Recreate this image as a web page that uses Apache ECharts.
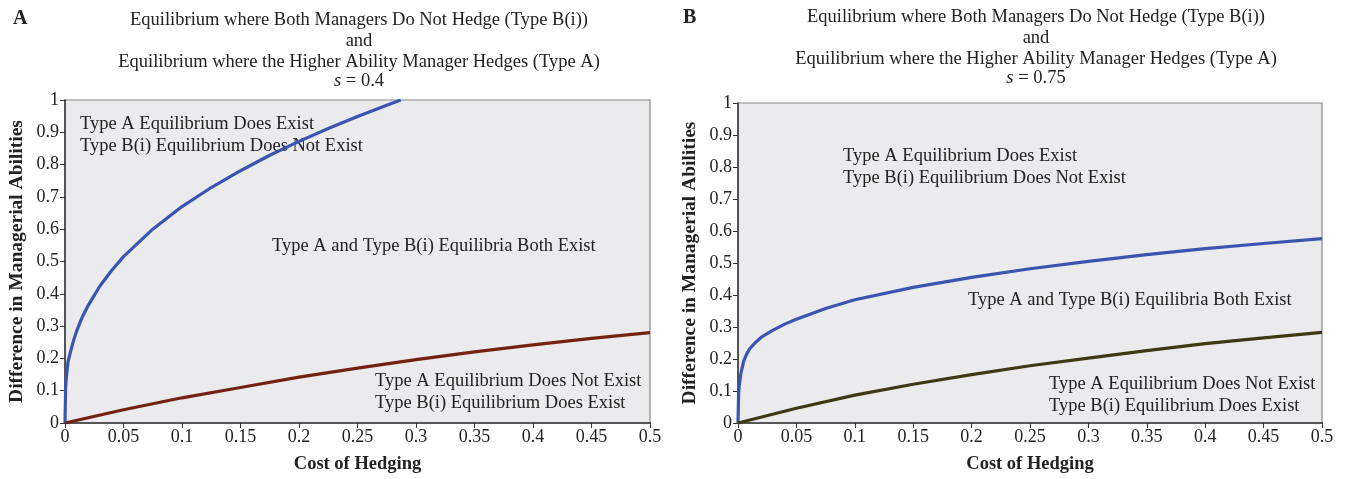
<!DOCTYPE html>
<html><head><meta charset="utf-8">
<script src="https://cdn.jsdelivr.net/npm/echarts@6/dist/echarts.min.js"></script>
<style>html,body{margin:0;padding:0;background:#fff}#c{width:1350px;height:479px}</style>
</head><body><div id="c"></div>
<script>
// Panel A (s = 0.4)
const costA_blue = [0, 0.0005, 0.001, 0.0026, 0.005, 0.0075, 0.01, 0.015, 0.02, 0.03, 0.04, 0.05, 0.075, 0.1, 0.125, 0.15, 0.175, 0.2, 0.225, 0.25, 0.275, 0.287];
const diffA_blue = [0, 0.11, 0.135, 0.19, 0.225, 0.258, 0.285, 0.33, 0.365, 0.425, 0.473, 0.515, 0.600, 0.670, 0.729, 0.781, 0.829, 0.872, 0.912, 0.949, 0.984, 1.0];
const costA_red = [0, 0.05, 0.1, 0.15, 0.2, 0.25, 0.3, 0.35, 0.4, 0.45, 0.5];
const diffA_red = [0, 0.041, 0.078, 0.110, 0.142, 0.170, 0.196, 0.220, 0.242, 0.262, 0.280];
// Panel B (s = 0.75)
const costB_blue = [0, 0.0005, 0.001, 0.0025, 0.005, 0.0075, 0.01, 0.015, 0.02, 0.03, 0.04, 0.05, 0.075, 0.1, 0.15, 0.2, 0.25, 0.3, 0.35, 0.4, 0.45, 0.5];
const diffB_blue = [0, 0.09, 0.115, 0.155, 0.195, 0.216, 0.232, 0.252, 0.268, 0.290, 0.309, 0.324, 0.358, 0.385, 0.424, 0.455, 0.482, 0.505, 0.526, 0.545, 0.561, 0.576];
const costB_olive = [0, 0.05, 0.1, 0.15, 0.2, 0.25, 0.3, 0.35, 0.4, 0.45, 0.5];
const diffB_olive = [0, 0.046, 0.087, 0.121, 0.151, 0.179, 0.203, 0.226, 0.248, 0.266, 0.283];

const titleLines = ['Equilibrium where Both Managers Do Not Hedge (Type B(i))', 'and', 'Equilibrium where the Higher Ability Manager Hedges (Type A)'];
const sValues = ['0.4', '0.75'];
const panelLetters = ['A', 'B'];
const xName = 'Cost of Hedging';
const yName = 'Difference in Managerial Abilities';
const regionTexts = {
  top: ['Type A Equilibrium Does Exist', 'Type B(i) Equilibrium Does Not Exist'],
  mid: 'Type A and Type B(i) Equilibria Both Exist',
  bot: ['Type A Equilibrium Does Not Exist', 'Type B(i) Equilibrium Does Exist']
};

const FONT = '"Liberation Serif", "DejaVu Serif", serif';
const FS = 18.5;
const zip = (xs, ys) => xs.map((x, i) => [x, ys[i]]);

const grids = [
  {left: 65, right: 700, top: 100, bottom: 56},
  {left: 738, right: 28, top: 103, bottom: 53}
];

function xAx(i) {
  return {
    type: 'value', gridIndex: i, min: 0, max: 0.5, interval: 0.05,
    name: xName, nameLocation: 'middle', nameGap: 32,
    nameTextStyle: {fontFamily: FONT, fontSize: 18.5, fontWeight: 'bold', color: '#222'},
    axisLine: {show: true, lineStyle: {color: '#333', width: 1.5}},
    axisTick: {show: true, length: 5, lineStyle: {color: '#333'}},
    axisLabel: {fontFamily: FONT, fontSize: 18, color: '#222', margin: 5},
    splitLine: {show: false}
  };
}
function yAx(i) {
  return {
    type: 'value', gridIndex: i, min: 0, max: 1, interval: 0.1,
    name: yName, nameLocation: 'middle', nameGap: 38,
    nameTextStyle: {fontFamily: FONT, fontSize: 19.5, fontWeight: 'bold', color: '#222'},
    axisLine: {show: true, lineStyle: {color: '#333', width: 1.5}},
    axisTick: {show: true, length: 5, lineStyle: {color: '#333'}},
    axisLabel: {fontFamily: FONT, fontSize: 18, color: '#222', margin: 6},
    splitLine: {show: false}
  };
}

const titleCenters = [354, 1031];
const titleTops = [5, 2];
const titles = [];
[0, 1].forEach(i => {
  titles.push({
    text: titleLines.join('\n'), left: titleCenters[i], top: titleTops[i], textAlign: 'center',
    textStyle: {fontFamily: FONT, fontSize: FS, fontWeight: 'normal', color: '#222', lineHeight: 20.7}
  });
  titles.push({
    text: '{i|s} = ' + sValues[i], left: titleCenters[i], top: titleTops[i] + 62, textAlign: 'center',
    textStyle: {fontFamily: FONT, fontSize: FS, fontWeight: 'normal', color: '#222',
      rich: {i: {fontFamily: FONT, fontSize: FS, fontStyle: 'italic', color: '#222'}}}
  });
});
titles.push({text: panelLetters[0], left: 8, top: 4, textStyle: {fontFamily: FONT, fontSize: 20, fontWeight: 'bold', color: '#222'}});
titles.push({text: panelLetters[1], left: 678, top: 3, textStyle: {fontFamily: FONT, fontSize: 20, fontWeight: 'bold', color: '#222'}});

function txt(x, y, s) {
  return {type: 'text', left: x, top: y, style: {text: s, font: FS + 'px ' + FONT, fill: '#222', lineHeight: 22}};
}
const graphics = [
  txt(80, 113, regionTexts.top.join('\n')),
  txt(272, 235, regionTexts.mid),
  txt(375, 370, regionTexts.bot.join('\n')),
  txt(843, 145, regionTexts.top.join('\n')),
  txt(968, 289, regionTexts.mid),
  txt(1049, 373, regionTexts.bot.join('\n'))
];

function line(i, data, color) {
  return {type: 'line', xAxisIndex: i, yAxisIndex: i, data: data, showSymbol: false, smooth: false,
    lineStyle: {color: color, width: 3.2}, itemStyle: {color: color}, silent: true, z: 3};
}

const chart = echarts.init(document.getElementById('c'), null, {renderer: 'canvas'});
chart.setOption({
  animation: false,
  backgroundColor: '#fff',
  title: titles,
  grid: grids.map(g => Object.assign({show: true, backgroundColor: '#ebebee', borderColor: '#888', borderWidth: 1.2}, g)),
  xAxis: [xAx(0), xAx(1)],
  yAxis: [yAx(0), yAx(1)],
  series: [
    line(0, zip(costA_blue, diffA_blue), '#3a55b0'),
    line(0, zip(costA_red, diffA_red), '#74220f'),
    line(1, zip(costB_blue, diffB_blue), '#3a55b0'),
    line(1, zip(costB_olive, diffB_olive), '#3d3a12')
  ],
  graphic: graphics
});
</script></body></html>
